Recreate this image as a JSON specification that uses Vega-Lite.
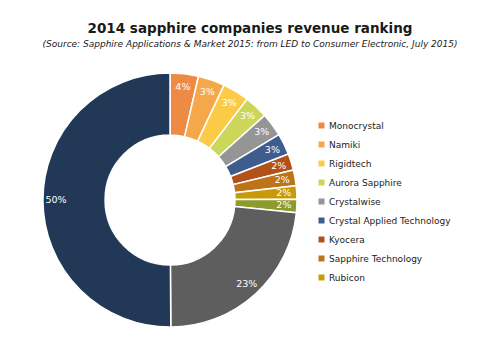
{
  "$schema": "https://vega.github.io/schema/vega-lite/v6.json",
  "autosize": "none",
  "padding": {"left": 43, "top": 73, "right": 203, "bottom": 23},
  "width": 254,
  "height": 254,
  "background": "white",
  "title": {
    "text": "2014 sapphire companies revenue ranking",
    "subtitle": "(Source: Sapphire Applications & Market 2015: from LED to Consumer Electronic, July 2015)",
    "anchor": "middle",
    "dx": 80,
    "offset": 21,
    "font": "DejaVu Sans",
    "fontSize": 13.5,
    "fontWeight": "bold",
    "color": "#1a1a1a",
    "subtitleFont": "DejaVu Sans",
    "subtitleFontSize": 9,
    "subtitleFontStyle": "italic",
    "subtitleColor": "#1a1a1a",
    "subtitlePadding": 5
  },
  "data": {
    "values": [
      {"rank": 1, "company": "Monocrystal", "share": 3.6, "label": "4%"},
      {"rank": 2, "company": "Namiki", "share": 3.4, "label": "3%"},
      {"rank": 3, "company": "Rigidtech", "share": 3.4, "label": "3%"},
      {"rank": 4, "company": "Aurora Sapphire", "share": 3.0, "label": "3%"},
      {"rank": 5, "company": "Crystalwise", "share": 3.0, "label": "3%"},
      {"rank": 6, "company": "Crystal Applied Technology", "share": 2.7, "label": "3%"},
      {"rank": 7, "company": "Kyocera", "share": 2.1, "label": "2%"},
      {"rank": 8, "company": "Sapphire Technology", "share": 2.0, "label": "2%"},
      {"rank": 9, "company": "Rubicon", "share": 1.7, "label": "2%"},
      {"rank": 10, "company": "Other company", "share": 1.7, "label": "2%"},
      {"rank": 11, "company": "Other companies", "share": 23.3, "label": "23%"},
      {"rank": 12, "company": "Leader", "share": 50.1, "label": "50%"}
    ]
  },
  "encoding": {
    "theta": {"field": "share", "type": "quantitative", "stack": true},
    "order": {"field": "rank", "type": "quantitative"},
    "color": {
      "field": "company",
      "type": "nominal",
      "scale": {
        "domain": ["Monocrystal", "Namiki", "Rigidtech", "Aurora Sapphire", "Crystalwise", "Crystal Applied Technology", "Kyocera", "Sapphire Technology", "Rubicon", "Other company", "Other companies", "Leader"],
        "range": ["#ED8B45", "#F5A84A", "#FBCB48", "#CCD75A", "#959595", "#3F5C8E", "#B1521B", "#BD7418", "#C89A0A", "#8E9A2C", "#5F5E5E", "#213957"]
      },
      "legend": {
        "title": null,
        "orient": "none",
        "legendX": 274,
        "legendY": 48,
        "values": ["Monocrystal", "Namiki", "Rigidtech", "Aurora Sapphire", "Crystalwise", "Crystal Applied Technology", "Kyocera", "Sapphire Technology", "Rubicon"],
        "symbolType": "square",
        "symbolSize": 36,
        "symbolStrokeWidth": 0,
        "labelFont": "DejaVu Sans",
        "labelFontSize": 9,
        "labelColor": "#222222",
        "labelOffset": 3,
        "rowPadding": 9,
        "labelLimit": 200
      }
    }
  },
  "layer": [
    {
      "mark": {"type": "arc", "innerRadius": 65, "outerRadius": 127, "stroke": "white", "strokeWidth": 1.5}
    },
    {
      "mark": {"type": "text", "radius": 114, "font": "DejaVu Sans", "fontSize": 9.5, "fill": "white", "align": "center", "baseline": "middle"},
      "encoding": {
        "text": {"field": "label", "type": "nominal"},
        "color": {"value": "white"}
      }
    }
  ],
  "config": {"view": {"stroke": null}}
}
